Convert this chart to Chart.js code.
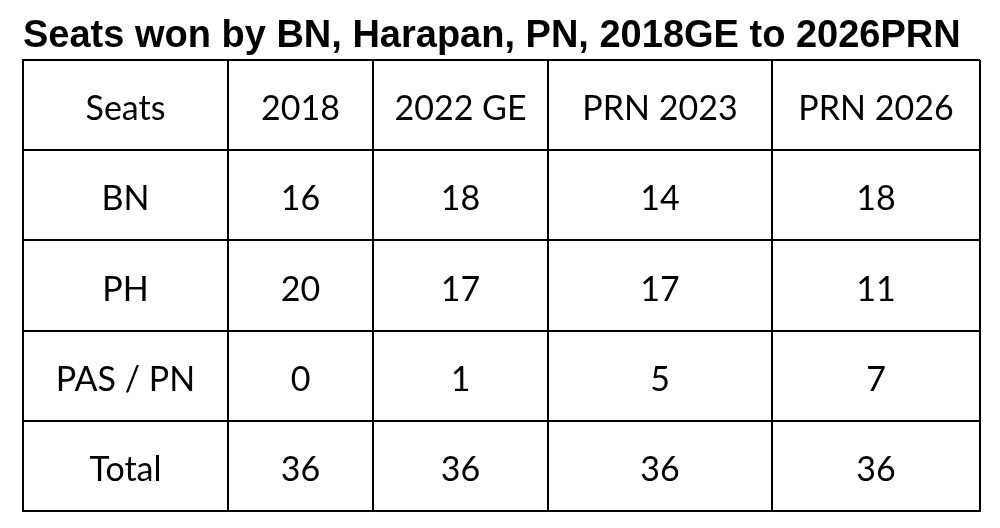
<!DOCTYPE html>
<html>
<head>
<meta charset="utf-8">
<script src="https://cdn.jsdelivr.net/npm/chart.js@4"></script>
<style>
  html, body { margin: 0; padding: 0; background: #fff; }
  #wrap { width: 1000px; height: 528px; }
</style>
</head>
<body>
<div id="wrap"><canvas id="seatsTable" width="1000" height="528"></canvas></div>
<script>
// Table data
const cornerLabel = 'Seats';
const columns = ['2018', '2022 GE', 'PRN 2023', 'PRN 2026'];
const rowLabels = ['BN', 'PH', 'PAS / PN', 'Total'];
const bnSeats = [16, 18, 14, 18];
const phSeats = [20, 17, 17, 11];
const pnSeats = [0, 1, 5, 7];
const totalSeats = [36, 36, 36, 36];
const seriesRows = [bnSeats, phSeats, pnSeats, totalSeats];

// Layout: column widths in table units (x scale is 0..sum)
const colWidths = [205, 145, 175, 224, 208];
const colEdges = colWidths.reduce((acc, w) => { acc.push(acc[acc.length - 1] + w); return acc; }, [0]);
const colCenter = i => (colEdges[i] + colEdges[i + 1]) / 2;
const yLabels = [cornerLabel, ...rowLabels];

// One dataset per table column, each point is a cell
const datasets = [];
datasets.push({
    label: cornerLabel,
    data: yLabels.map(r => ({ x: colCenter(0), y: r, text: r }))
});
columns.forEach((col, c) => {
    const cells = [{ x: colCenter(c + 1), y: cornerLabel, text: col }];
    rowLabels.forEach((r, i) => {
        cells.push({ x: colCenter(c + 1), y: r, text: String(seriesRows[i][c]) });
    });
    datasets.push({ label: col, data: cells });
});

// Draw the cell text at each point
const cellText = {
    id: 'cellText',
    afterDatasetsDraw(chart) {
        const ctx = chart.ctx;
        ctx.save();
        ctx.fillStyle = '#000';
        ctx.font = '34px Lato';
        ctx.textAlign = 'center';
        ctx.textBaseline = 'alphabetic';
        chart.data.datasets.forEach((ds, di) => {
            chart.getDatasetMeta(di).data.forEach((pt, i) => {
                ctx.fillText(ds.data[i].text, pt.x, pt.y + 15);
            });
        });
        ctx.restore();
    }
};

new Chart(document.getElementById('seatsTable'), {
    type: 'scatter',
    data: { datasets: datasets },
    options: {
        responsive: false,
        animation: false,
        devicePixelRatio: 1,
        layout: { padding: { left: 23, right: 20, top: 0, bottom: 17 } },
        elements: { point: { radius: 0, hoverRadius: 0 } },
        plugins: {
            legend: { display: false },
            tooltip: { enabled: false },
            title: {
                display: true,
                align: 'start',
                text: 'Seats won by BN, Harapan, PN, 2018GE to 2026PRN',
                color: '#000',
                font: { family: 'Liberation Sans', size: 38, weight: 'bold', lineHeight: 1 },
                padding: { top: 18, bottom: 4 }
            }
        },
        scales: {
            x: {
                type: 'linear',
                min: 0,
                max: colEdges[colEdges.length - 1],
                afterBuildTicks: scale => { scale.ticks = colEdges.map(v => ({ value: v })); },
                ticks: { display: false },
                grid: { color: '#000', lineWidth: 2, drawTicks: false },
                border: { color: '#000', width: 2 }
            },
            y: {
                type: 'category',
                labels: yLabels,
                offset: true,
                ticks: { display: false },
                grid: { offset: true, color: '#000', lineWidth: 2, drawTicks: false },
                border: { color: '#000', width: 2 }
            }
        }
    },
    plugins: [cellText]
});
</script>
</body>
</html>
